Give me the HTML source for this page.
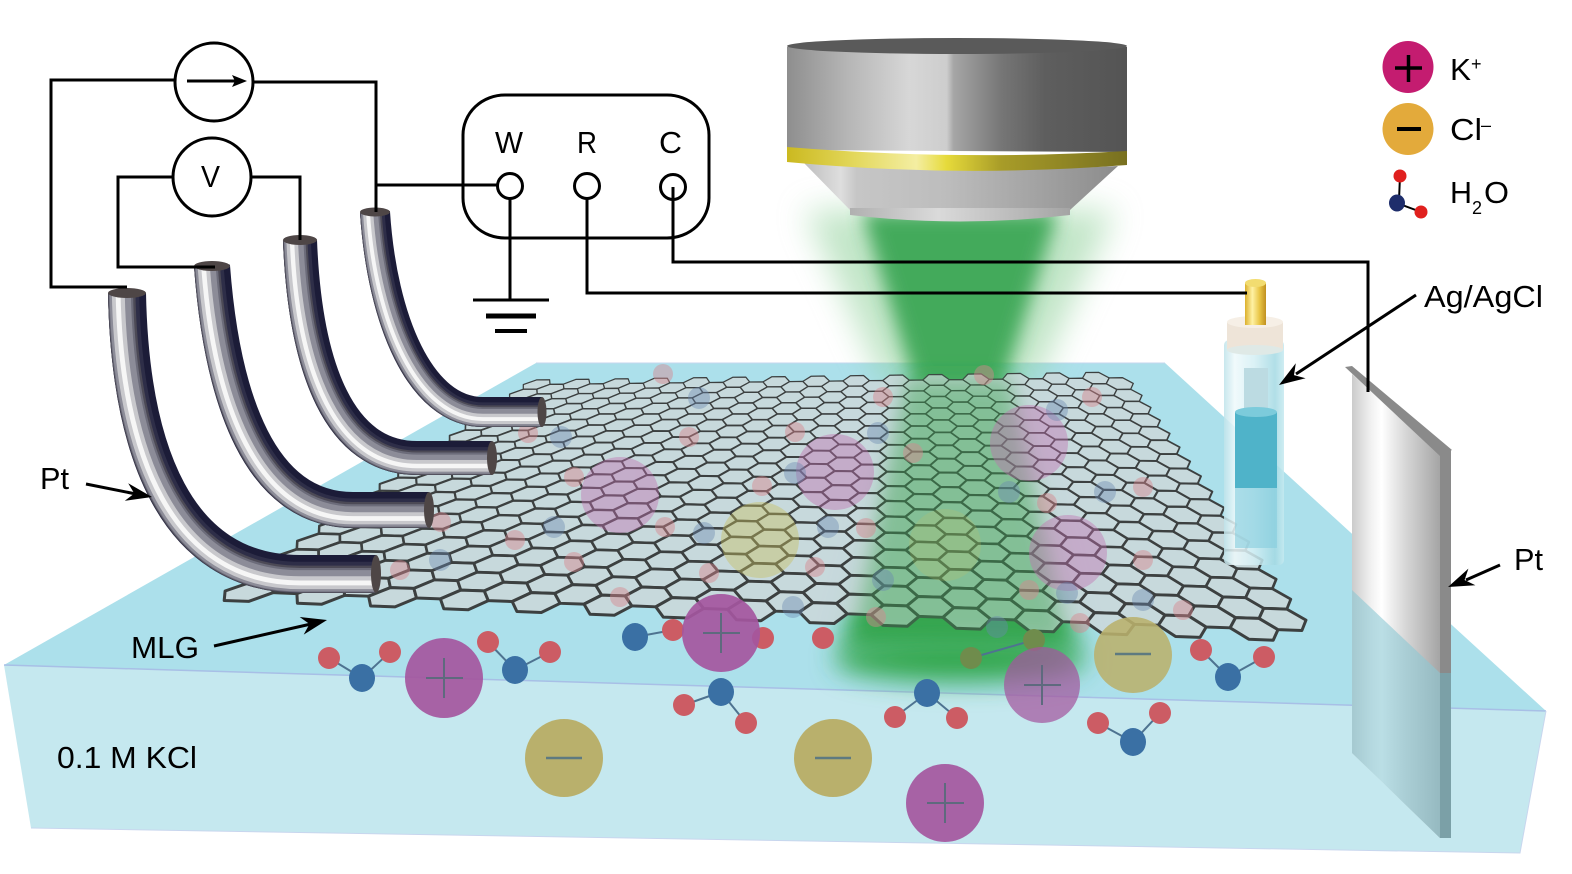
<!DOCTYPE html>
<html><head><meta charset="utf-8">
<style>
html,body{margin:0;padding:0;background:#fff;}
svg{display:block;}
text{font-family:"Liberation Sans",Arial,sans-serif;fill:#000;}
</style></head><body>
<svg width="1572" height="874" viewBox="0 0 1572 874" xmlns="http://www.w3.org/2000/svg">
<defs>
 <filter id="bz16" filterUnits="userSpaceOnUse" x="650" y="120" width="620" height="680"><feGaussianBlur stdDeviation="16"/></filter>
 <filter id="bz10" filterUnits="userSpaceOnUse" x="650" y="120" width="620" height="680"><feGaussianBlur stdDeviation="9"/></filter>
 <filter id="bz13" filterUnits="userSpaceOnUse" x="650" y="120" width="620" height="680"><feGaussianBlur stdDeviation="13"/></filter>
 <linearGradient id="gBody" x1="787" x2="1127" y1="0" y2="0" gradientUnits="userSpaceOnUse">
  <stop offset="0" stop-color="#8e8e8e"/><stop offset="0.18" stop-color="#b6b6b6"/>
  <stop offset="0.36" stop-color="#d7d7d7"/><stop offset="0.47" stop-color="#cdcdcd"/>
  <stop offset="0.49" stop-color="#a6a6a6"/><stop offset="0.63" stop-color="#767676"/>
  <stop offset="0.76" stop-color="#5e5e5e"/><stop offset="1" stop-color="#545454"/>
 </linearGradient>
 <linearGradient id="gBand" x1="787" x2="1127" y1="0" y2="0" gradientUnits="userSpaceOnUse">
  <stop offset="0" stop-color="#cbb920"/><stop offset="0.2" stop-color="#e3d85c"/>
  <stop offset="0.38" stop-color="#f4eea2"/><stop offset="0.47" stop-color="#e6da3a"/>
  <stop offset="0.63" stop-color="#a89c28"/><stop offset="1" stop-color="#787020"/>
 </linearGradient>
 <linearGradient id="gCone" x1="803" x2="1118" y1="0" y2="0" gradientUnits="userSpaceOnUse">
  <stop offset="0" stop-color="#bdbdbd"/><stop offset="0.12" stop-color="#dedede"/>
  <stop offset="0.17" stop-color="#c6c6c6"/><stop offset="0.45" stop-color="#bdbdbd"/>
  <stop offset="0.75" stop-color="#a2a2a2"/><stop offset="1" stop-color="#8c8c8c"/>
 </linearGradient>
 <linearGradient id="gRim" x1="850" x2="1070" y1="0" y2="0" gradientUnits="userSpaceOnUse">
  <stop offset="0" stop-color="#b0b0b0"/><stop offset="0.4" stop-color="#dadada"/>
  <stop offset="1" stop-color="#a4a4a4"/>
 </linearGradient>
 <linearGradient id="gGold" x1="1245" x2="1266" y1="0" y2="0" gradientUnits="userSpaceOnUse">
  <stop offset="0" stop-color="#dcb02c"/><stop offset="0.35" stop-color="#fff2a4"/>
  <stop offset="0.7" stop-color="#e8c444"/><stop offset="1" stop-color="#c09020"/>
 </linearGradient>
 <linearGradient id="gGlass" x1="1224" x2="1284" y1="0" y2="0" gradientUnits="userSpaceOnUse">
  <stop offset="0" stop-color="#bfe3ea"/><stop offset="0.18" stop-color="#eef9fb"/>
  <stop offset="0.5" stop-color="#d4eff4"/><stop offset="0.85" stop-color="#a3d9e3"/>
  <stop offset="1" stop-color="#c6eaf0"/>
 </linearGradient>
 <linearGradient id="gPlate" x1="1352" x2="1442" y1="0" y2="0" gradientUnits="userSpaceOnUse">
  <stop offset="0" stop-color="#cbcbcb"/><stop offset="0.22" stop-color="#f2f2f2"/>
  <stop offset="0.33" stop-color="#ffffff"/><stop offset="0.6" stop-color="#d6d6d6"/>
  <stop offset="1" stop-color="#a2a2a2"/>
 </linearGradient>
</defs>

<!-- solution box -->
<polygon points="536,363 1165,363 1546,711 4,665" fill="#ace0eb"/>
<polygon points="4,665 1546,711 1520,853 31,828" fill="#c5e8ef"/>
<polyline points="4,665 1546,711" fill="none" stroke="#a8bfe6" stroke-width="1.5"/>
<polyline points="536,363 1165,363" fill="none" stroke="#c4d6ee" stroke-width="1"/>
<polyline points="31,828 1520,853 1546,711" fill="none" stroke="#c8d6ee" stroke-width="1"/>

<!-- green beam (under sheet) -->
<polygon points="805,210 1115,210 1035,385 885,385" fill="#8fd09a" opacity="0.55" filter="url(#bz16)"/>
<polygon points="862,212 1058,212 1002,388 916,388" fill="#3da757" opacity="0.95" filter="url(#bz10)"/>
<polygon points="912,385 1008,385 1080,652 840,652" fill="#33a64d" filter="url(#bz13)"/>
<ellipse cx="960" cy="660" rx="125" ry="22" fill="#35a84f" filter="url(#bz13)"/>

<!-- graphene sheet -->
<g id="sheet" fill="#cbd7d9" fill-opacity="0.85" stroke="#3c4040" stroke-linejoin="round">
 <polygon points="530,380 1125,372 1322,642 212,600" stroke-width="2"/>
</g>

<!-- beam overlay on sheet -->
<polygon points="905,380 1010,380 1065,640 855,640" fill="#3aa653" opacity="0.4" filter="url(#bz10)"/>

<!-- faded ions under sheet -->
<g opacity="0.42">
 <ellipse cx="620" cy="495" rx="39" ry="38" fill="#c070b0"/>
 <ellipse cx="835" cy="472" rx="39" ry="38" fill="#c070b0"/>
 <ellipse cx="1029" cy="443" rx="39" ry="38" fill="#c070b0"/>
 <ellipse cx="1068" cy="553" rx="39" ry="38" fill="#c070b0"/>
 <ellipse cx="760" cy="540" rx="39" ry="38" fill="#c8c060"/>
 <ellipse cx="945" cy="545" rx="36" ry="36" fill="#c8c060" opacity="0.5"/>
</g>
<g opacity="0.45" fill="#d8868e">
 <circle cx="663" cy="374" r="10"/><circle cx="689" cy="437" r="10"/><circle cx="574" cy="477" r="10"/>
 <circle cx="528" cy="433" r="10"/><circle cx="574" cy="562" r="10"/><circle cx="665" cy="527" r="10"/>
 <circle cx="709" cy="573" r="10"/><circle cx="795" cy="432" r="10"/><circle cx="762" cy="486" r="10"/>
 <circle cx="866" cy="528" r="10"/><circle cx="815" cy="567" r="10"/><circle cx="883" cy="397" r="10"/>
 <circle cx="913" cy="453" r="10"/><circle cx="984" cy="375" r="10"/><circle cx="1047" cy="503" r="10"/>
 <circle cx="1092" cy="397" r="10"/><circle cx="1143" cy="487" r="10"/><circle cx="1029" cy="590" r="10"/>
 <circle cx="1080" cy="623" r="10"/><circle cx="620" cy="597" r="10"/><circle cx="876" cy="617" r="10"/>
 <circle cx="1183" cy="610" r="10"/><circle cx="1143" cy="560" r="10"/><circle cx="441" cy="522" r="10"/>
 <circle cx="515" cy="540" r="10"/><circle cx="400" cy="570" r="10"/>
</g>
<g opacity="0.4" fill="#6a88b0">
 <circle cx="699" cy="398" r="11"/><circle cx="561" cy="437" r="11"/><circle cx="554" cy="527" r="11"/>
 <circle cx="704" cy="533" r="11"/><circle cx="795" cy="473" r="11"/><circle cx="828" cy="527" r="11"/>
 <circle cx="878" cy="433" r="11"/><circle cx="1057" cy="410" r="11"/><circle cx="1009" cy="492" r="11"/>
 <circle cx="1105" cy="492" r="11"/><circle cx="883" cy="580" r="11"/><circle cx="1067" cy="593" r="11"/>
 <circle cx="1143" cy="600" r="11"/><circle cx="997" cy="627" r="11"/><circle cx="793" cy="607" r="11"/>
 <circle cx="440" cy="560" r="11"/>
</g>

<!-- front molecules -->
<g stroke="#4e7390" stroke-width="2">
 <line x1="329" y1="658" x2="362" y2="678"/><line x1="390" y1="652" x2="362" y2="678"/>
 <line x1="488" y1="642" x2="515" y2="670"/><line x1="550" y1="652" x2="515" y2="670"/>
 <line x1="635" y1="637" x2="673" y2="630"/>
 <line x1="684" y1="705" x2="721" y2="692"/><line x1="746" y1="723" x2="721" y2="692"/>
 <line x1="895" y1="717" x2="927" y2="693"/><line x1="957" y1="718" x2="927" y2="693"/>
 <line x1="1098" y1="723" x2="1133" y2="742"/><line x1="1160" y1="713" x2="1133" y2="742"/>
 <line x1="1201" y1="650" x2="1228" y2="677"/><line x1="1264" y1="657" x2="1228" y2="677"/>
 <line x1="971" y1="658" x2="1034" y2="640"/>
</g>
<g fill="#cc5c64">
 <circle cx="329" cy="658" r="11"/><circle cx="390" cy="652" r="11"/>
 <circle cx="488" cy="642" r="11"/><circle cx="550" cy="652" r="11"/>
 <circle cx="673" cy="630" r="11"/><circle cx="763" cy="638" r="11"/><circle cx="823" cy="638" r="11"/>
 <circle cx="684" cy="705" r="11"/><circle cx="746" cy="723" r="11"/>
 <circle cx="895" cy="717" r="11"/><circle cx="957" cy="718" r="11"/>
 <circle cx="1098" cy="723" r="11"/><circle cx="1160" cy="713" r="11"/>
 <circle cx="1201" cy="650" r="11"/><circle cx="1264" cy="657" r="11"/>
</g>
<g fill="#3a70a4">
 <ellipse cx="362" cy="678" rx="13" ry="14"/><ellipse cx="515" cy="670" rx="13" ry="14"/>
 <ellipse cx="635" cy="637" rx="13" ry="14"/><ellipse cx="721" cy="692" rx="13" ry="14"/>
 <ellipse cx="927" cy="693" rx="13" ry="14"/><ellipse cx="1133" cy="742" rx="13" ry="14"/>
 <ellipse cx="1228" cy="677" rx="13" ry="14"/>
</g>
<g fill="#6f8c4c"><circle cx="971" cy="658" r="11"/><circle cx="1034" cy="640" r="11"/></g>

<!-- front ions -->
<g fill="#a4569e" opacity="0.92">
 <ellipse cx="444" cy="678" rx="39" ry="40"/>
 <ellipse cx="721" cy="633" rx="39" ry="39"/>
 <ellipse cx="945" cy="803" rx="39" ry="39"/>
</g>
<ellipse cx="1042" cy="685" rx="38" ry="38" fill="#a4569e" opacity="0.72"/>
<g fill="#b9b06c">
 <ellipse cx="564" cy="758" rx="39" ry="39"/>
 <ellipse cx="833" cy="758" rx="39" ry="39"/>
</g>
<ellipse cx="1133" cy="655" rx="39" ry="38" fill="#b9b06c" opacity="0.88"/>
<g stroke="#5e6a7e" stroke-width="2" fill="none">
 <path d="M426,678 H463 M444,658 V698"/>
 <path d="M703,633 H740 M721,613 V653"/>
 <path d="M927,803 H964 M945,783 V823"/>
 <path d="M1024,685 H1061 M1042,665 V705"/>
</g>
<g stroke="#5e7a80" stroke-width="2.5" fill="none">
 <path d="M546,758 H582"/><path d="M815,758 H851"/><path d="M1115,654 H1151"/>
</g>

<!-- Ag/AgCl electrode -->
<rect x="1224" y="340" width="60" height="225" rx="5" fill="url(#gGlass)" opacity="0.85"/>
<rect x="1244" y="368" width="24" height="44" fill="#bcdbe2"/>
<rect x="1235" y="412" width="42" height="76" fill="#4fb3c9"/>
<ellipse cx="1256" cy="412" rx="21" ry="5" fill="#7ccbdb"/>
<rect x="1235" y="488" width="42" height="60" fill="#86cddd" opacity="0.6"/>
<rect x="1227" y="322" width="56" height="28" fill="#eee4d8"/>
<ellipse cx="1255" cy="350" rx="28" ry="5" fill="#dfe9e6"/>
<ellipse cx="1255" cy="322" rx="28" ry="6" fill="#f6efe6"/>
<rect x="1245" y="283" width="21" height="42" fill="url(#gGold)"/>
<ellipse cx="1255.5" cy="283" rx="10.5" ry="4" fill="#f2dc70"/>

<!-- Pt plate -->
<polygon points="1352,374 1440,454 1440,838 1352,753" fill="url(#gPlate)"/>
<polygon points="1352,590 1440,673 1440,838 1352,753" fill="#8cc8d4" opacity="0.6"/>
<polygon points="1345,367 1352,366 1452,450 1440,456" fill="#8a8a8a"/>
<rect x="1440" y="450" width="11" height="223" fill="#8a8a8a"/>
<rect x="1440" y="673" width="11" height="165" fill="#7ba0a7"/>

<!-- objective lens -->
<path d="M787,47 L1127,47 L1127,152 L787,150 Z" fill="url(#gBody)"/>
<ellipse cx="957" cy="46" rx="170" ry="8" fill="#5a5a5a"/>
<path d="M803,162 Q957,174 1118,166 L1070,210 Q960,214 850,210 Z" fill="url(#gCone)"/>
<path d="M850,208 L1070,208 L1070,215 Q960,228 850,215 Z" fill="url(#gRim)"/>
<path d="M787,147 Q957,161 1127,151 L1127,165 Q957,178 787,162 Z" fill="url(#gBand)"/>

<!-- Pt tubes -->
<g fill="none">
 <path d="M127,293 C130,450 175,574 300,574 L376,574" stroke="#1c1c38" stroke-width="38"/>
 <path d="M123.6,293 C126.6,451.4 173.6,577.4 300,577.4 L376,577.4" stroke="#2e2e48" stroke-width="31.2"/>
 <path d="M121.7,293 C124.7,452.1 172.9,579.3 300,579.3 L376,579.3" stroke="#4c4a56" stroke-width="27.4"/>
 <path d="M120.9,293 C123.9,452.4 172.6,580.1 300,580.1 L376,580.1" stroke="#6c6c7a" stroke-width="24.3"/>
 <path d="M120.2,293 C123.2,452.7 172.3,580.8 300,580.8 L376,580.8" stroke="#8c8c98" stroke-width="21.3"/>
 <path d="M118.3,293 C121.3,453.5 171.5,582.7 300,582.7 L376,582.7" stroke="#c8c8cc" stroke-width="12.9"/>
 <path d="M118.1,293 C121.1,453.6 171.4,582.9 300,582.9 L376,582.9" stroke="#f6f6f6" stroke-width="4.9"/>

 <path d="M212,266 C222,400 260,510 353,510 L429,510" stroke="#1c1c38" stroke-width="36"/>
 <path d="M208.8,266 C218.8,401.3 258.7,513.2 353,513.2 L429,513.2" stroke="#2e2e48" stroke-width="29.5"/>
 <path d="M207,266 C217,402 258,515 353,515 L429,515" stroke="#4c4a56" stroke-width="25.9"/>
 <path d="M206.2,266 C216.2,402.3 257.7,515.8 353,515.8 L429,515.8" stroke="#6c6c7a" stroke-width="23"/>
 <path d="M205.5,266 C215.5,402.6 257.4,516.5 353,516.5 L429,516.5" stroke="#8c8c98" stroke-width="20.2"/>
 <path d="M203.7,266 C213.7,403.3 256.7,518.3 353,518.3 L429,518.3" stroke="#c8c8cc" stroke-width="12.2"/>
 <path d="M203.5,266 C213.5,403.4 256.6,518.5 353,518.5 L429,518.5" stroke="#f6f6f6" stroke-width="4.7"/>

 <path d="M300,240 C305,370 340,458 417,458 L492,458" stroke="#1c1c38" stroke-width="34"/>
 <path d="M296.9,240 C301.9,371.2 338.8,461.1 417,461.1 L492,461.1" stroke="#2e2e48" stroke-width="27.9"/>
 <path d="M295.2,240 C300.2,371.9 338.1,462.8 417,462.8 L492,462.8" stroke="#4c4a56" stroke-width="24.5"/>
 <path d="M294.6,240 C299.6,372.2 337.8,463.4 417,463.4 L492,463.4" stroke="#6c6c7a" stroke-width="21.8"/>
 <path d="M293.9,240 C298.9,372.4 337.6,464.1 417,464.1 L492,464.1" stroke="#8c8c98" stroke-width="19"/>
 <path d="M292.2,240 C297.2,373.1 336.9,465.8 417,465.8 L492,465.8" stroke="#c8c8cc" stroke-width="11.6"/>
 <path d="M292,240 C297,373.2 336.8,466 417,466 L492,466" stroke="#f6f6f6" stroke-width="4.4"/>

 <path d="M375,212 C382,320 420,412 483,412 L542,412" stroke="#1c1c38" stroke-width="30"/>
 <path d="M372.3,212 C379.3,321.1 418.9,414.7 483,414.7 L542,414.7" stroke="#2e2e48" stroke-width="24.6"/>
 <path d="M370.8,212 C377.8,321.7 418.3,416.2 483,416.2 L542,416.2" stroke="#4c4a56" stroke-width="21.6"/>
 <path d="M370.2,212 C377.2,321.9 418.1,416.8 483,416.8 L542,416.8" stroke="#6c6c7a" stroke-width="19.2"/>
 <path d="M369.6,212 C376.6,322.2 417.8,417.4 483,417.4 L542,417.4" stroke="#8c8c98" stroke-width="16.8"/>
 <path d="M368.1,212 C375.1,322.8 417.2,418.9 483,418.9 L542,418.9" stroke="#c8c8cc" stroke-width="10.2"/>
 <path d="M367.95,212 C374.95,322.8 417.2,419.05 483,419.05 L542,419.05" stroke="#f6f6f6" stroke-width="3.9"/>
</g>
<g fill="#4e4646">
 <ellipse cx="127" cy="293" rx="19" ry="5"/><ellipse cx="212" cy="266" rx="18" ry="5"/>
 <ellipse cx="300" cy="240" rx="17" ry="5"/><ellipse cx="375" cy="212" rx="15" ry="4.5"/>
 <ellipse cx="376" cy="574" rx="5" ry="19"/><ellipse cx="429" cy="510" rx="5" ry="18"/>
 <ellipse cx="492" cy="458" rx="5" ry="17"/><ellipse cx="542" cy="412" rx="4.5" ry="15"/>
</g>

<!-- circuit -->
<g fill="none" stroke="#000" stroke-width="3">
 <circle cx="214" cy="82" r="39"/>
 <circle cx="212" cy="177" r="39"/>
 <path d="M175,80 H51 V287 H127"/>
 <path d="M253,82 H376 V212"/>
 <path d="M376,185 H497"/>
 <path d="M173,177 H118 V267 H215"/>
 <path d="M251,177 H300 V240"/>
 <line x1="187" y1="81" x2="236" y2="81"/>
 <rect x="463" y="95" width="246" height="143" rx="42" ry="40"/>
 <path d="M510,198 V300"/>
 <path d="M587,198 V293 H1247"/>
 <path d="M673,187 V262 H1368 V392"/>
 <circle cx="510" cy="186" r="12.5" fill="#fff"/>
 <circle cx="587" cy="186" r="12.5" fill="#fff"/>
 <circle cx="673" cy="187" r="12.5" fill="#fff"/>
 <path d="M673,187 V200"/>
</g>
<polygon points="247,81 232,75 235,81 232,87" fill="#000"/>
<rect x="473" y="298.5" width="76" height="3" fill="#000"/>
<rect x="486" y="313.5" width="50" height="5" fill="#000"/>
<rect x="495" y="329" width="32" height="4" fill="#000"/>

<!-- legend -->
<ellipse cx="1408" cy="67" rx="25.5" ry="26" fill="#c41c70"/>
<path d="M1395,68 H1422 M1408.5,55 V82" stroke="#000" stroke-width="3.5"/>
<ellipse cx="1408" cy="129" rx="25.5" ry="26" fill="#e3aa3b"/>
<path d="M1397,129 H1421" stroke="#000" stroke-width="4"/>
<path d="M1400,176 L1399,200 M1397,203 L1421,212" stroke="#000" stroke-width="2"/>
<circle cx="1400" cy="176" r="6.5" fill="#e0201e"/>
<circle cx="1421" cy="212" r="6.5" fill="#e0201e"/>
<ellipse cx="1397" cy="203" rx="8" ry="8.5" fill="#1e2d6b"/>

<!-- arrows -->
<g stroke="#000" stroke-width="3">
 <line x1="86" y1="484" x2="136" y2="494"/>
 <line x1="214" y1="646" x2="311" y2="624"/>
 <line x1="1416" y1="295" x2="1296" y2="374"/>
 <line x1="1500" y1="565" x2="1466" y2="580"/>
</g>
<g fill="#000">
 <polygon points="152,497 124.8,500.8 134.3,493.5 128.2,483.2"/>
 <polygon points="327,620 303.7,634.6 309.5,624 299.7,617"/>
 <polygon points="1279,385 1295.8,363.2 1294,375.1 1305.6,378.2"/>
 <polygon points="1448,587 1468.4,568.6 1464.6,580 1475.4,585.2"/>
</g>

<!-- labels -->
<g font-size="31">
 <text x="495" y="153" textLength="28" lengthAdjust="spacingAndGlyphs">W</text>
 <text x="577" y="153" textLength="20" lengthAdjust="spacingAndGlyphs">R</text>
 <text x="659" y="153" textLength="23" lengthAdjust="spacingAndGlyphs">C</text>
 <text x="201" y="187" textLength="19" lengthAdjust="spacingAndGlyphs">V</text>
 <text x="1450" y="80" textLength="21" lengthAdjust="spacingAndGlyphs">K</text>
 <text x="1450" y="140" textLength="32" lengthAdjust="spacingAndGlyphs">Cl</text>
 <text x="1450" y="203" textLength="22" lengthAdjust="spacingAndGlyphs">H</text>
 <text x="1484" y="203" textLength="25" lengthAdjust="spacingAndGlyphs">O</text>
 <text x="1424" y="307" textLength="119" lengthAdjust="spacingAndGlyphs">Ag/AgCl</text>
 <text x="1514" y="570" textLength="29" lengthAdjust="spacingAndGlyphs">Pt</text>
 <text x="40" y="489" textLength="29" lengthAdjust="spacingAndGlyphs">Pt</text>
 <text x="131" y="658" textLength="68" lengthAdjust="spacingAndGlyphs">MLG</text>
 <text x="57" y="768" textLength="140" lengthAdjust="spacingAndGlyphs">0.1 M KCl</text>
</g>
<g font-size="18">
 <text x="1471" y="70">+</text>
 <text x="1481" y="131">–</text>
 <text x="1472" y="214">2</text>
</g>
</svg>
<script>
(function(){
var g=document.getElementById("sheet");
var BL=[530,380],BR=[1125,372],FR=[1322,642],FL=[212,600];
var NC=30,NR=17,zb=1.414;
function f(t){var Z=zb-(zb-1)*t;return (1/Z-1/zb)/(1-1/zb);}
function mp(u,t){var v=f(t);var lx=BL[0]+(FL[0]-BL[0])*v,ly=BL[1]+(FL[1]-BL[1])*v,rx=BR[0]+(FR[0]-BR[0])*v,ry=BR[1]+(FR[1]-BR[1])*v;return (lx+(rx-lx)*u).toFixed(1)+","+(ly+(ry-ly)*u).toFixed(1);}
var du=1/(NC+1/3),w=du*4/3,dt=1/NR,h="";
for(var c=0;c<NC;c++){var u=du*c+w/2;var off=(c%2)?dt/2:0;
 for(var r=0;r<NR;r++){var t=dt*r+dt/2+off;if(t+dt/2>1.0001)continue;
  var pts=[mp(u-w/2,t),mp(u-w/4,t-dt/2),mp(u+w/4,t-dt/2),mp(u+w/2,t),mp(u+w/4,t+dt/2),mp(u-w/4,t+dt/2)].join(" ");
  var sw=(1.2+1.9*f(t)).toFixed(2);
  h+='<polygon points="'+pts+'" stroke-width="'+sw+'"/>';}}
g.innerHTML=h;
})();
</script>
</body></html>
